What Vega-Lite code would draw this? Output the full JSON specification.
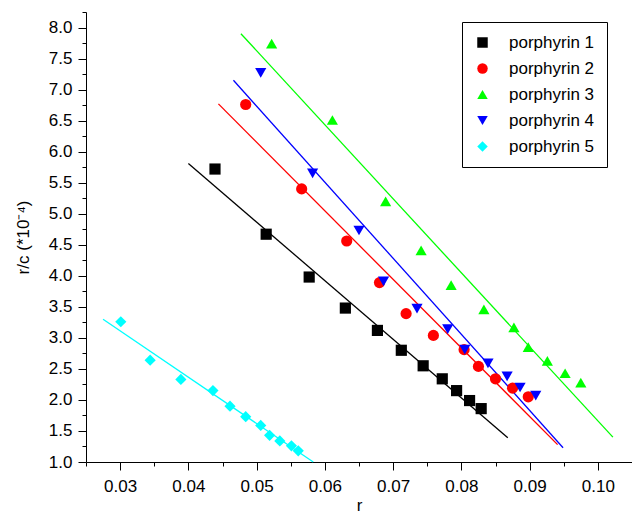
{
  "$schema": "https://vega.github.io/schema/vega-lite/v6.json",
  "width": 546,
  "height": 450,
  "autosize": {"type": "none"},
  "padding": {"left": 86, "top": 12, "right": 0, "bottom": 55},
  "background": "white",
  "config": {
    "view": {"stroke": null},
    "font": "Liberation Sans",
    "axis": {
      "grid": false,
      "domainColor": "black",
      "tickColor": "black",
      "domainWidth": 1,
      "tickWidth": 1,
      "labelFont": "Liberation Sans",
      "labelFontSize": 17,
      "labelColor": "black",
      "titleFont": "Liberation Sans",
      "titleFontSize": 17,
      "titleFontWeight": "normal",
      "titleColor": "black"
    },
    "legend": {
      "labelFont": "Liberation Sans",
      "labelFontSize": 17,
      "labelColor": "black"
    }
  },
  "datasets": {
    "points": [
      {"series": "porphyrin 1", "r": 0.0439, "rc": 5.72},
      {"series": "porphyrin 1", "r": 0.0514, "rc": 4.67},
      {"series": "porphyrin 1", "r": 0.0577, "rc": 3.98},
      {"series": "porphyrin 1", "r": 0.0630, "rc": 3.48},
      {"series": "porphyrin 1", "r": 0.0677, "rc": 3.12},
      {"series": "porphyrin 1", "r": 0.0712, "rc": 2.80},
      {"series": "porphyrin 1", "r": 0.0744, "rc": 2.55},
      {"series": "porphyrin 1", "r": 0.0772, "rc": 2.34},
      {"series": "porphyrin 1", "r": 0.0793, "rc": 2.15},
      {"series": "porphyrin 1", "r": 0.0812, "rc": 1.99},
      {"series": "porphyrin 1", "r": 0.0829, "rc": 1.86},
      {"series": "porphyrin 2", "r": 0.0484, "rc": 6.76},
      {"series": "porphyrin 2", "r": 0.0566, "rc": 5.40},
      {"series": "porphyrin 2", "r": 0.0632, "rc": 4.56},
      {"series": "porphyrin 2", "r": 0.0680, "rc": 3.89},
      {"series": "porphyrin 2", "r": 0.0719, "rc": 3.39},
      {"series": "porphyrin 2", "r": 0.0759, "rc": 3.04},
      {"series": "porphyrin 2", "r": 0.0804, "rc": 2.81},
      {"series": "porphyrin 2", "r": 0.0825, "rc": 2.54},
      {"series": "porphyrin 2", "r": 0.0850, "rc": 2.34},
      {"series": "porphyrin 2", "r": 0.0875, "rc": 2.19},
      {"series": "porphyrin 2", "r": 0.0898, "rc": 2.05},
      {"series": "porphyrin 3", "r": 0.0522, "rc": 7.74},
      {"series": "porphyrin 3", "r": 0.0611, "rc": 6.51},
      {"series": "porphyrin 3", "r": 0.0689, "rc": 5.20},
      {"series": "porphyrin 3", "r": 0.0741, "rc": 4.41},
      {"series": "porphyrin 3", "r": 0.0785, "rc": 3.85},
      {"series": "porphyrin 3", "r": 0.0833, "rc": 3.46},
      {"series": "porphyrin 3", "r": 0.0877, "rc": 3.17},
      {"series": "porphyrin 3", "r": 0.0898, "rc": 2.85},
      {"series": "porphyrin 3", "r": 0.0926, "rc": 2.63},
      {"series": "porphyrin 3", "r": 0.0952, "rc": 2.43},
      {"series": "porphyrin 3", "r": 0.0975, "rc": 2.28},
      {"series": "porphyrin 4", "r": 0.0506, "rc": 7.27},
      {"series": "porphyrin 4", "r": 0.0582, "rc": 5.65},
      {"series": "porphyrin 4", "r": 0.0650, "rc": 4.73},
      {"series": "porphyrin 4", "r": 0.0686, "rc": 3.91},
      {"series": "porphyrin 4", "r": 0.0735, "rc": 3.47},
      {"series": "porphyrin 4", "r": 0.0780, "rc": 3.14},
      {"series": "porphyrin 4", "r": 0.0805, "rc": 2.81},
      {"series": "porphyrin 4", "r": 0.0839, "rc": 2.59},
      {"series": "porphyrin 4", "r": 0.0867, "rc": 2.38},
      {"series": "porphyrin 4", "r": 0.0886, "rc": 2.20},
      {"series": "porphyrin 4", "r": 0.0909, "rc": 2.07},
      {"series": "porphyrin 5", "r": 0.0301, "rc": 3.26},
      {"series": "porphyrin 5", "r": 0.0344, "rc": 2.64},
      {"series": "porphyrin 5", "r": 0.0389, "rc": 2.33},
      {"series": "porphyrin 5", "r": 0.0436, "rc": 2.15},
      {"series": "porphyrin 5", "r": 0.0461, "rc": 1.90},
      {"series": "porphyrin 5", "r": 0.0484, "rc": 1.73},
      {"series": "porphyrin 5", "r": 0.0506, "rc": 1.59},
      {"series": "porphyrin 5", "r": 0.0519, "rc": 1.43},
      {"series": "porphyrin 5", "r": 0.0534, "rc": 1.34},
      {"series": "porphyrin 5", "r": 0.0551, "rc": 1.26},
      {"series": "porphyrin 5", "r": 0.0561, "rc": 1.18}
    ],
    "fits": [
      {"series": "porphyrin 1", "r": 0.0400, "rc": 5.81},
      {"series": "porphyrin 1", "r": 0.0868, "rc": 1.39},
      {"series": "porphyrin 2", "r": 0.0444, "rc": 6.77},
      {"series": "porphyrin 2", "r": 0.0941, "rc": 1.28},
      {"series": "porphyrin 3", "r": 0.0477, "rc": 7.90},
      {"series": "porphyrin 3", "r": 0.1022, "rc": 1.40},
      {"series": "porphyrin 4", "r": 0.0466, "rc": 7.15},
      {"series": "porphyrin 4", "r": 0.0949, "rc": 1.23},
      {"series": "porphyrin 5", "r": 0.0275, "rc": 3.30},
      {"series": "porphyrin 5", "r": 0.0583, "rc": 1.0}
    ]
  },
  "layer": [
    {
      "data": {"name": "fits"},
      "mark": {"type": "line", "strokeWidth": 1.3},
      "encoding": {
        "x": {"field": "r", "type": "quantitative"},
        "y": {"field": "rc", "type": "quantitative"},
        "detail": {"field": "series", "type": "nominal"},
        "color": {
          "field": "series",
          "type": "nominal",
          "scale": {
            "domain": ["porphyrin 1", "porphyrin 2", "porphyrin 3", "porphyrin 4", "porphyrin 5"],
            "range": ["#000000", "#ff0000", "#00ff00", "#0000ff", "#00ffff"]
          },
          "legend": null
        }
      }
    },
    {
      "data": {"name": "points"},
      "mark": {"type": "point", "filled": true, "opacity": 1, "size": 125},
      "encoding": {
        "x": {
          "field": "r",
          "type": "quantitative",
          "scale": {"domain": [0.025, 0.105], "nice": false, "zero": false},
          "axis": {
            "title": "r",
            "values": [0.025, 0.03, 0.035, 0.04, 0.045, 0.05, 0.055, 0.06, 0.065, 0.07, 0.075, 0.08, 0.085, 0.09, 0.095, 0.1, 0.105],
            "tickCount": 100,
            "labelExpr": "round(datum.value * 1000) % 10 === 0 ? format(datum.value, '.2f') : ''",
            "tickSize": {"condition": {"test": "round(datum.value * 1000) % 10 === 0", "value": 8}, "value": 4},
            "labelOverlap": false,
            "labelBound": false,
            "labelPadding": 8,
            "titlePadding": 3,
            "labelFlush": false
          }
        },
        "y": {
          "field": "rc",
          "type": "quantitative",
          "scale": {"domain": [1, 8.25], "nice": false, "zero": false},
          "axis": {
            "title": "r/c (*10⁻⁴)",
            "values": [1, 1.25, 1.5, 1.75, 2, 2.25, 2.5, 2.75, 3, 3.25, 3.5, 3.75, 4, 4.25, 4.5, 4.75, 5, 5.25, 5.5, 5.75, 6, 6.25, 6.5, 6.75, 7, 7.25, 7.5, 7.75, 8, 8.25],
            "tickCount": 100,
            "labelExpr": "round(datum.value * 100) % 50 === 0 ? format(datum.value, '.1f') : ''",
            "tickSize": {"condition": {"test": "round(datum.value * 100) % 50 === 0", "value": 8}, "value": 4},
            "labelOverlap": false,
            "labelBound": false,
            "labelPadding": 6,
            "titlePadding": 16,
            "labelFlush": false
          }
        },
        "shape": {
          "field": "series",
          "type": "nominal",
          "scale": {
            "domain": ["porphyrin 1", "porphyrin 2", "porphyrin 3", "porphyrin 4", "porphyrin 5"],
            "range": ["square", "circle", "triangle-up", "triangle-down", "diamond"]
          },
          "legend": {
            "title": null,
            "orient": "none",
            "legendX": 376,
            "legendY": 10,
            "strokeColor": "black",
            "fillColor": "white",
            "padding": 12,
            "labelOffset": 18,
            "rowPadding": 8,
            "symbolSize": 110,
            "symbolStrokeWidth": 0
          }
        },
        "color": {
          "field": "series",
          "type": "nominal",
          "scale": {
            "domain": ["porphyrin 1", "porphyrin 2", "porphyrin 3", "porphyrin 4", "porphyrin 5"],
            "range": ["#000000", "#ff0000", "#00ff00", "#0000ff", "#00ffff"]
          },
          "legend": {
            "title": null,
            "orient": "none",
            "legendX": 376,
            "legendY": 10,
            "strokeColor": "black",
            "fillColor": "white",
            "padding": 12,
            "labelOffset": 18,
            "rowPadding": 8,
            "symbolSize": 110,
            "symbolStrokeWidth": 0
          }
        }
      }
    }
  ],
  "resolve": {
    "scale": {"color": "independent", "shape": "independent"},
    "legend": {"color": "independent", "shape": "independent"}
  }
}
